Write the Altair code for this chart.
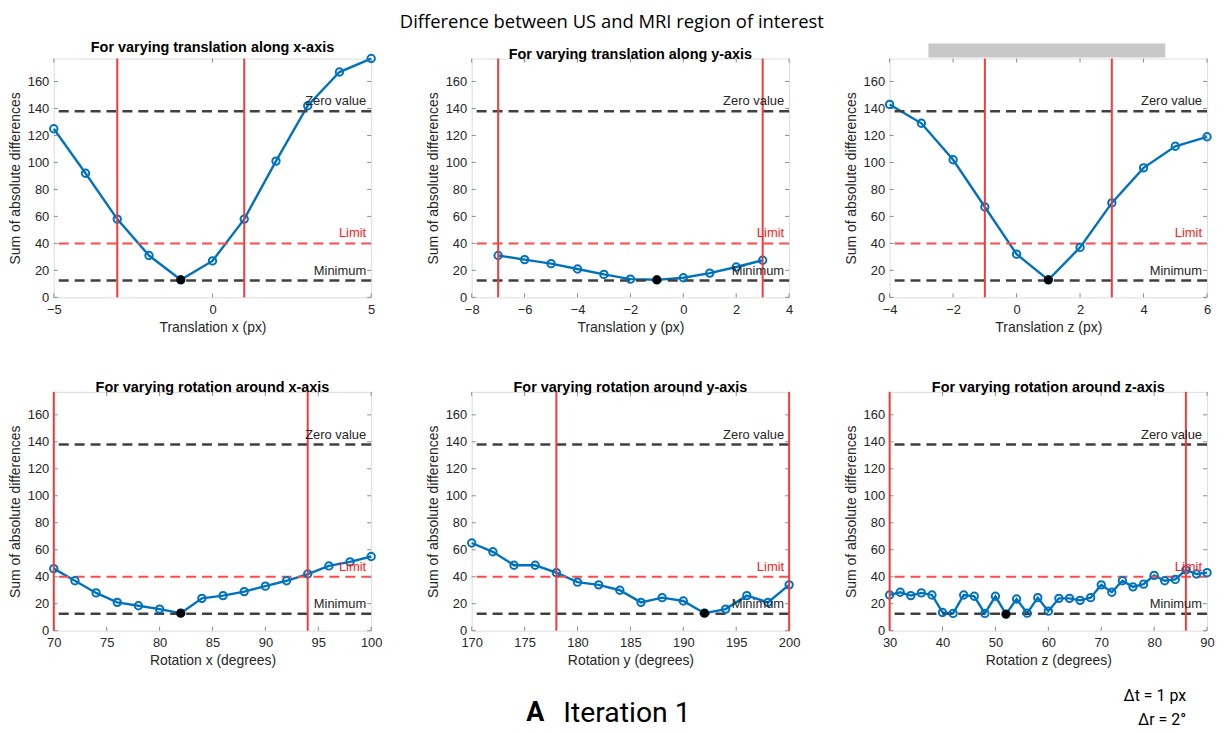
import altair as alt
import pandas as pd

# ---------------- data ----------------
Y_MAX = 177
ZERO_VALUE = 138
LIMIT = 40
MINIMUM = 12.5

titles = [
    "For varying translation along x-axis",
    "For varying translation along y-axis",
    " ",
    "For varying rotation around x-axis",
    "For varying rotation around y-axis",
    "For varying rotation around z-axis",
]
x_titles = [
    "Translation x (px)", "Translation y (px)", "Translation z (px)",
    "Rotation x (degrees)", "Rotation y (degrees)", "Rotation z (degrees)",
]
x_domains = [[-5, 5], [-8, 4], [-4, 6], [70, 100], [170, 200], [30, 90]]
x_ticks = [
    [-5, 0, 5],
    [-8, -6, -4, -2, 0, 2, 4],
    [-4, -2, 0, 2, 4, 6],
    [70, 75, 80, 85, 90, 95, 100],
    [170, 175, 180, 185, 190, 195, 200],
    [30, 40, 50, 60, 70, 80, 90],
]
y_ticks = [0, 20, 40, 60, 80, 100, 120, 140, 160]

tx_x = [-5, -4, -3, -2, -1, 0, 1, 2, 3, 4, 5]
tx_y = [125, 92, 58, 31, 13, 27, 58, 101, 142, 167, 177]
ty_x = [-7, -6, -5, -4, -3, -2, -1, 0, 1, 2, 3]
ty_y = [31, 28, 25, 21, 17, 13.5, 13, 14.5, 18, 22.5, 27.5]
tz_x = [-4, -3, -2, -1, 0, 1, 2, 3, 4, 5, 6]
tz_y = [143, 129, 102, 67, 32, 13, 37, 70, 96, 112, 119]
rx_x = [70, 72, 74, 76, 78, 80, 82, 84, 86, 88, 90, 92, 94, 96, 98, 100]
rx_y = [46, 37, 28, 21, 18.5, 16, 13, 24, 26, 29, 33, 37, 42, 48, 51, 55]
ry_x = [170, 172, 174, 176, 178, 180, 182, 184, 186, 188, 190, 192, 194, 196, 198, 200]
ry_y = [65, 58.5, 48.5, 48.5, 43, 36, 34, 30, 21, 24.5, 22, 13, 16, 26, 21, 34]
rz_x = [30, 32, 34, 36, 38, 40, 42, 44, 46, 48, 50, 52, 54, 56, 58, 60,
        62, 64, 66, 68, 70, 72, 74, 76, 78, 80, 82, 84, 86, 88, 90]
rz_y = [26.5, 28.5, 26, 28, 26.5, 13.5, 12.8, 26.5, 25.5, 12.8, 25.5, 12.3, 23.5, 13, 24.5, 14.5,
        24, 24, 22.5, 24.5, 34, 28.5, 37, 32.5, 34.5, 41, 37, 38, 45, 42, 43]

series_x = [tx_x, ty_x, tz_x, rx_x, ry_x, rz_x]
series_y = [tx_y, ty_y, tz_y, rx_y, ry_y, rz_y]
min_x = [-1, -1, 1, 82, 192, 52]
red_lines = [[-3, 1], [-7, 3], [-1, 3], [70, 94], [178, 200], [30, 86]]

ref_values = [ZERO_VALUE, LIMIT, MINIMUM]
ref_labels = ["Zero value", "Limit", "Minimum"]
ref_colors = ["#262626", "#ff2020", "#262626"]

# ---------------- style ----------------
W, H = 319, 240
BLUE = "#0072BD"
FONT = "Liberation Sans"
AX = "#262626"


def panel(i):
    df = pd.DataFrame({"x": series_x[i], "y": series_y[i]})
    xs = alt.Scale(domain=x_domains[i], nice=False, zero=False)
    ys = alt.Scale(domain=[0, Y_MAX], nice=False, zero=False)
    xenc = alt.X("x:Q", scale=xs, axis=alt.Axis(
        values=x_ticks[i], tickCount=12, title=x_titles[i], ticks=False, domain=False,
        grid=False, labelPadding=6, titlePadding=4, labelFont=FONT, labelFontSize=13,
        labelColor=AX, titleFont=FONT, titleFontSize=14, titleFontWeight="normal",
        titleColor=AX, labelFlush=False, labelOverlap=False))
    yenc = alt.Y("y:Q", scale=ys, axis=alt.Axis(
        values=y_ticks, tickCount=12, title="Sum of absolute differences", ticks=False,
        domain=False, grid=False, labelPadding=5, minExtent=27, maxExtent=27,
        titlePadding=4, labelFont=FONT, labelFontSize=13, labelColor=AX,
        titleFont=FONT, titleFontSize=14, titleFontWeight="normal", titleColor=AX,
        labelFlush=False, labelOverlap=False))

    base = alt.Chart(df)
    refs = pd.DataFrame({"y": ref_values, "label": ref_labels, "c": ref_colors})
    gray_lines = alt.Chart(refs[refs["label"] != "Limit"]).mark_rule(
        color="#404040", strokeWidth=2.5, strokeDash=[10, 6]).encode(y="y:Q")
    limit_line = alt.Chart(refs[refs["label"] == "Limit"]).mark_rule(
        color="#ff4a4a", strokeWidth=2, strokeDash=[10, 6]).encode(y="y:Q")

    line = base.mark_line(color=BLUE, strokeWidth=2.4).encode(x=xenc, y=yenc)
    pts = base.mark_point(shape="circle", filled=False, color=BLUE, size=55,
                          strokeWidth=2, opacity=1).encode(x="x:Q", y="y:Q")

    vdf = pd.DataFrame({"x": red_lines[i]})
    vlines = alt.Chart(vdf).mark_rule(color="#f23c3c", strokeWidth=2).encode(x="x:Q")

    mdf = df[df["x"] == min_x[i]]
    mpt = alt.Chart(mdf).mark_circle(color="black", size=80, opacity=1).encode(
        x="x:Q", y="y:Q")

    texts = alt.Chart(refs).mark_text(
        align="right", baseline="bottom", dy=-3, font=FONT, fontSize=13).encode(
        x=alt.value(W - 5), y="y:Q", text="label:N", color=alt.Color("c:N", scale=None))

    # inward ticks on all four sides
    xt = pd.DataFrame({"x": x_ticks[i]})
    yt = pd.DataFrame({"y": y_ticks})
    tick_style = dict(color="#8a8a8a", strokeWidth=1)
    xt_bot = alt.Chart(xt).mark_rule(**tick_style).encode(
        x="x:Q", y=alt.value(H), y2=alt.value(H - 4))
    xt_top = alt.Chart(xt).mark_rule(**tick_style).encode(
        x="x:Q", y=alt.value(0), y2=alt.value(4))
    yt_left = alt.Chart(yt).mark_rule(**tick_style).encode(
        y="y:Q", x=alt.value(0), x2=alt.value(4))
    yt_right = alt.Chart(yt).mark_rule(**tick_style).encode(
        y="y:Q", x=alt.value(W), x2=alt.value(W - 4))

    layers = [line, gray_lines, limit_line, xt_bot, xt_top, yt_left, yt_right,
              pts, vlines, mpt, texts]

    if i == 2:
        bar = alt.Chart(pd.DataFrame({"k": [0]})).mark_rect(color="#c8c8c8").encode(
            x=alt.value(39), x2=alt.value(277), y=alt.value(-15), y2=alt.value(-1))
        layers.append(bar)
    if i == 4:
        tA = alt.Chart(pd.DataFrame({"t": ["A"]})).mark_text(
            font="Roboto", fontSize=27, fontWeight="bold", align="center",
            baseline="middle", color="black").encode(
            x=alt.value(64), y=alt.value(323), text="t:N")
        tI = alt.Chart(pd.DataFrame({"t": ["Iteration 1"]})).mark_text(
            font="Roboto", fontSize=28.5, align="left", baseline="middle",
            color="black").encode(x=alt.value(92), y=alt.value(323), text="t:N")
        layers += [tA, tI]
    if i == 5:
        tD1 = alt.Chart(pd.DataFrame({"t": ["\u0394t = 1 px"]})).mark_text(
            font="Roboto", fontSize=16, align="right", baseline="middle",
            color="black").encode(x=alt.value(298), y=alt.value(306), text="t:N")
        tD2 = alt.Chart(pd.DataFrame({"t": ["\u0394r = 2\u00b0"]})).mark_text(
            font="Roboto", fontSize=16, align="right", baseline="middle",
            color="black").encode(x=alt.value(298), y=alt.value(330), text="t:N")
        layers += [tD1, tD2]

    ch = alt.layer(*layers).properties(
        width=W, height=H,
        title=alt.TitleParams(titles[i], font=FONT, fontSize=14.5, fontWeight="bold",
                              color="black", offset=-5))
    return ch


panels = [panel(i) for i in range(6)]

chart = alt.concat(*panels, columns=3, spacing={"row": 95, "column": 101}).properties(
    bounds="flush",
    padding={"top": 3, "left": 0, "right": 0, "bottom": 0},
    title=alt.TitleParams("Difference between US and MRI region of interest",
                          font="Open Sans", fontSize=18.5, fontWeight="normal",
                          color="black", anchor="middle", offset=1),
).configure_view(stroke="#7a7a7a", strokeWidth=1).configure_axis(
    labelOverlap=False).configure(background="white")

chart.save("out.html", embed_options={"renderer": "svg", "actions": False})
